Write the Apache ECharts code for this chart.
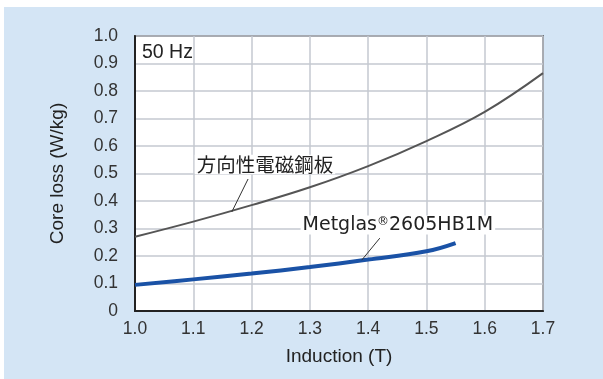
<!DOCTYPE html>
<html><head><meta charset="utf-8">
<script src="https://cdn.jsdelivr.net/npm/echarts@6/dist/echarts.min.js"></script>
<style>html,body{margin:0;padding:0;background:#fff}#c{width:603px;height:379px}</style>
</head><body><div id="c"></div>
<script>
const xTicks = [1.0, 1.1, 1.2, 1.3, 1.4, 1.5, 1.6, 1.7];
const grainX = [1.0, 1.1, 1.2, 1.3, 1.4, 1.5, 1.6, 1.7];
const grainY = [0.27, 0.325, 0.385, 0.45, 0.527, 0.618, 0.724, 0.865];
const metglasX = [1.0, 1.1, 1.2, 1.3, 1.4, 1.5, 1.55];
const metglasY = [0.095, 0.115, 0.136, 0.16, 0.187, 0.217, 0.247];
const grainName = '方向性電磁鋼板';
const metglasName = 'Metglas®2605HB1M';

const font = '"Liberation Sans", Arial, sans-serif';
const wide = '"DejaVu Sans", sans-serif';
const chart = echarts.init(document.getElementById('c'), null, {renderer: 'canvas'});
const zip = (xs, ys) => xs.map((x, i) => [x, ys[i]]);

chart.setOption({
  animation: false,
  backgroundColor: '#ffffff',
  graphic: [{
    type: 'rect', z: -10, silent: true,
    shape: {x: 4, y: 7, width: 603, height: 379},
    style: {fill: '#d4e5f5'}
  }, {
    type: 'text', z: 10, x: 142, y: 52.5,
    style: {text: '50 Hz', font: '19.5px ' + font, fill: '#222', verticalAlign: 'middle'}
  }],
  grid: {left: 135, right: 60, top: 36, bottom: 68, show: true,
    backgroundColor: '#ffffff', borderColor: '#222', borderWidth: 1.5},
  xAxis: {
    type: 'value', min: 1.0, max: 1.7, interval: 0.1,
    name: 'Induction (T)', nameLocation: 'middle', nameGap: 36,
    nameTextStyle: {fontSize: 19, color: '#222', fontFamily: font},
    axisLine: {show: true, lineStyle: {color: '#222', width: 2}},
    axisTick: {show: false},
    axisLabel: {margin: 9, fontSize: 17.5, color: '#333', fontFamily: font,
      formatter: v => v.toFixed(1)},
    splitLine: {show: true, lineStyle: {color: '#c4c8d0', width: 1.5}}
  },
  yAxis: {
    type: 'value', min: 0, max: 1.0, interval: 0.1,
    name: 'Core loss (W/kg)', nameLocation: 'middle', nameGap: 68,
    nameTextStyle: {fontSize: 19, color: '#222', fontFamily: font},
    axisLine: {show: true, lineStyle: {color: '#222', width: 2}},
    axisTick: {show: false},
    axisLabel: {margin: 17, fontSize: 17.5, color: '#333', fontFamily: font,
      formatter: v => v === 0 ? '0' : v.toFixed(1)},
    splitLine: {show: true, lineStyle: {color: '#c4c8d0', width: 1.5}}
  },
  series: [{
    type: 'line', name: grainName, data: zip(grainX, grainY),
    smooth: 0.4, showSymbol: false, z: 3,
    lineStyle: {color: '#555555', width: 2},
    markLine: {silent: true, symbol: 'none', label: {show: false},
      lineStyle: {color: '#333', width: 1, type: 'solid'},
      data: [[{coord: [1.194, 0.48]}, {coord: [1.166, 0.36]}]]},
    markPoint: {silent: true, symbol: 'rect', symbolSize: 0,
      data: [{coord: [1.223, 0.533], label: {show: true, position: 'inside',
        formatter: grainName, fontSize: 19.5, color: '#222',
        fontFamily: '"Noto Sans CJK JP", sans-serif',
        backgroundColor: '#fff', padding: [0, 2]}}]}
  }, {
    type: 'line', name: metglasName, data: zip(metglasX, metglasY),
    smooth: 0.4, showSymbol: false, z: 4,
    lineStyle: {color: '#1a52a6', width: 4},
    markLine: {silent: true, symbol: 'none', label: {show: false},
      lineStyle: {color: '#333', width: 1, type: 'solid'},
      data: [[{coord: [1.42, 0.265]}, {coord: [1.389, 0.185]}]]},
    markPoint: {silent: true, symbol: 'rect', symbolSize: 0,
      data: [{coord: [1.451, 0.313], label: {show: true, position: 'inside',
        formatter: '{a|Metglas}{r|®}{a|2605HB1M}',
        backgroundColor: '#fff', padding: [0, 2],
        rich: {a: {fontSize: 19, color: '#222', fontFamily: wide},
               r: {fontSize: 12, color: '#222', fontFamily: wide, verticalAlign: 'top', padding: [0, 0, 6, 0]}}}}]}
  }]
});
</script></body></html>
